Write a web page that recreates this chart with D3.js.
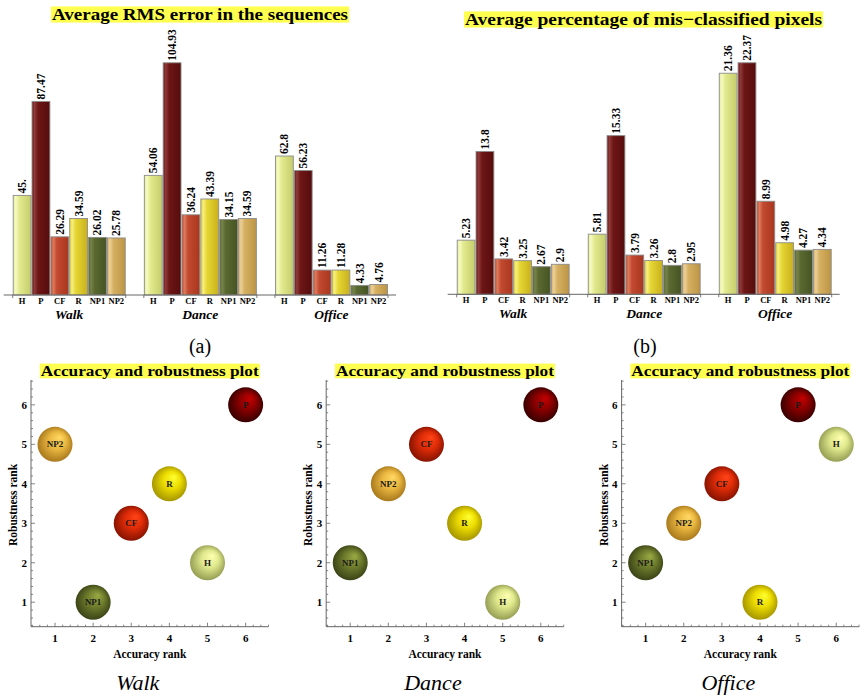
<!DOCTYPE html>
<html>
<head>
<meta charset="utf-8">
<script src="https://cdn.jsdelivr.net/npm/d3@7"></script>
<style>
  body { margin: 0; background: #fff; }
</style>
</head>
<body>
<div id="chart"></div>
<script>
// data
const groups = ["Walk", "Dance", "Office"];
const methods = ["H", "P", "CF", "R", "NP1", "NP2"];

const rmsWalk = [45, 87.47, 26.29, 34.59, 26.02, 25.78];
const rmsDance = [54.06, 104.93, 36.24, 43.39, 34.15, 34.59];
const rmsOffice = [62.8, 56.23, 11.26, 11.28, 4.33, 4.76];

const misWalk = [5.23, 13.8, 3.42, 3.25, 2.67, 2.9];
const misDance = [5.81, 15.33, 3.79, 3.26, 2.8, 2.95];
const misOffice = [21.36, 22.37, 8.99, 4.98, 4.27, 4.34];

// accuracy / robustness ranks, same order as methods
const accWalk = [5, 6, 3, 4, 2, 1];
const robWalk = [2, 6, 3, 4, 1, 5];
const accDance = [5, 6, 3, 4, 1, 2];
const robDance = [1, 6, 5, 3, 2, 4];
const accOffice = [6, 5, 3, 4, 1, 2];
const robOffice = [5, 6, 4, 1, 2, 3];
const rankTicks = [1, 2, 3, 4, 5, 6];

// colours per method
const barColors = {
  H:   { dark: "#c4cc6c", base: "#e2ea8e", light: "#f6fac4" },
  P:   { dark: "#560c0c", base: "#6e1616", light: "#8e3a3a" },
  CF:  { dark: "#a8361e", base: "#c24a30", light: "#dc7a5c" },
  R:   { dark: "#c8b01c", base: "#e6d634", light: "#f6ee80" },
  NP1: { dark: "#465424", base: "#5a6830", light: "#76844c" },
  NP2: { dark: "#bc9444", base: "#d6b062", light: "#ecd098" }
};
const ballColors = {
  H:   { dark: "#8c944c", base: "#dfe88c", light: "#ffffb0" },
  P:   { dark: "#2c0000", base: "#8a0000", light: "#c40000" },
  CF:  { dark: "#7a1000", base: "#e02c08", light: "#ff4418" },
  R:   { dark: "#9c8c00", base: "#ecdc00", light: "#ffff30" },
  NP1: { dark: "#343c14", base: "#6e7c2c", light: "#9aaa44" },
  NP2: { dark: "#a07018", base: "#eab840", light: "#ffd864" }
};

const SERIF = "Liberation Serif, Tinos, Noto Serif, DejaVu Serif, FreeSerif, Nimbus Roman, Times, serif";
const W = 865, H = 696;
const svg = d3.select("#chart").append("svg")
  .attr("width", W).attr("height", H)
  .style("font-family", SERIF);
svg.append("rect").attr("width", W).attr("height", H).attr("fill", "#fff");

const defs = svg.append("defs");
methods.forEach(m => {
  const c = barColors[m];
  const g = defs.append("linearGradient").attr("id", "bar-" + m)
    .attr("x1", "0%").attr("x2", "100%").attr("y1", "0%").attr("y2", "0%");
  g.append("stop").attr("offset", "0%").attr("stop-color", c.base);
  g.append("stop").attr("offset", "14%").attr("stop-color", c.light);
  g.append("stop").attr("offset", "34%").attr("stop-color", c.base);
  g.append("stop").attr("offset", "100%").attr("stop-color", c.dark);

  const b = ballColors[m];
  const r = defs.append("radialGradient").attr("id", "ball-" + m)
    .attr("cx", "50%").attr("cy", "50%").attr("r", "55%")
    .attr("fx", "64%").attr("fy", "30%");
  r.append("stop").attr("offset", "0%").attr("stop-color", b.light);
  r.append("stop").attr("offset", "45%").attr("stop-color", b.base);
  r.append("stop").attr("offset", "100%").attr("stop-color", b.dark);
});

// width-fitted text, so the layout holds whatever serif face is found
function fitText(sel, width) {
  sel.each(function () {
    const w = this.getComputedTextLength();
    if (w > 0) d3.select(this).attr("textLength", width).attr("lengthAdjust", "spacingAndGlyphs");
  });
  return sel;
}

function highlightTitle(text, cx, baseline, size, width) {
  const g = svg.append("g");
  const t = g.append("text")
    .attr("x", cx).attr("y", baseline)
    .attr("text-anchor", "middle")
    .attr("font-weight", "bold")
    .attr("font-size", size)
    .text(text);
  fitText(t, width);
  g.insert("rect", "text")
    .attr("x", cx - width / 2 - 1).attr("y", baseline - size * 0.8)
    .attr("width", width + 2).attr("height", size * 0.95)
    .attr("fill", "#ffff50");
}

const fmt = v => Number.isInteger(v) ? v + "." : String(v);

function barChart(cfg) {
  const series = [cfg.walk, cfg.dance, cfg.office];
  const x = d3.scaleBand().domain(groups).range([cfg.x0, cfg.x1]).paddingInner(0.138);
  const xm = d3.scaleBand().domain(methods).range([0, x.bandwidth()]);
  const y = d3.scaleLinear().domain([0, cfg.yMax]).range([cfg.base, cfg.top]);

  const g = svg.append("g");
  groups.forEach((grp, gi) => {
    const gg = g.append("g").attr("transform", `translate(${x(grp)},0)`);
    const rows = methods.map((m, i) => ({ m, v: series[gi][i] }));

    gg.selectAll("rect").data(rows).enter().append("rect")
      .attr("x", d => xm(d.m) + 0.5)
      .attr("y", d => y(d.v))
      .attr("width", xm.bandwidth() - 1)
      .attr("height", d => y(0) - y(d.v))
      .attr("fill", d => `url(#bar-${d.m})`)
      .attr("stroke", "#8c8c8c")
      .attr("stroke-width", 0.9);

    gg.selectAll("text.val").data(rows).enter().append("text")
      .attr("class", "val")
      .attr("transform", d => `translate(${xm(d.m) + xm.bandwidth() / 2 + 4},${y(d.v) - 2}) rotate(-90)`)
      .attr("font-size", 11.5).attr("font-weight", "bold")
      .text(d => fmt(d.v));

    gg.selectAll("text.cat").data(methods).enter().append("text")
      .attr("class", "cat")
      .attr("x", d => xm(d) + xm.bandwidth() / 2)
      .attr("y", cfg.base + 9)
      .attr("text-anchor", "middle")
      .attr("font-size", 8.5).attr("font-weight", "bold")
      .text(d => d);

    gg.append("text")
      .attr("x", x.bandwidth() / 2).attr("y", cfg.base + 23.5)
      .attr("text-anchor", "middle")
      .attr("font-size", 13.5).attr("font-weight", "bold").attr("font-style", "italic")
      .text(grp);

    [0, x.bandwidth()].forEach(tx => {
      gg.append("line").attr("x1", tx).attr("x2", tx)
        .attr("y1", cfg.base).attr("y2", cfg.base + 3)
        .attr("stroke", "#555").attr("stroke-width", 0.8);
    });
  });

  g.append("line")
    .attr("x1", cfg.x0 - 9).attr("x2", cfg.x1 + 8)
    .attr("y1", cfg.base).attr("y2", cfg.base)
    .attr("stroke", "#666").attr("stroke-width", 1);

  highlightTitle(cfg.title, cfg.titleX, cfg.titleY, 17, cfg.titleW);
}

barChart({
  title: "Average RMS error in the sequences",
  titleX: 200, titleY: 20, titleW: 296,
  x0: 12.7, x1: 388, base: 295, top: 295 - 110 * 2.213, yMax: 110,
  walk: rmsWalk, dance: rmsDance, office: rmsOffice
});
barChart({
  title: "Average percentage of mis\u2212classified pixels",
  titleX: 643.5, titleY: 25, titleW: 357,
  x0: 456.7, x1: 831.7, base: 294.3, top: 294.3 - 23 * 10.35, yMax: 23,
  walk: misWalk, dance: misDance, office: misOffice
});

svg.append("text").attr("x", 200).attr("y", 353).attr("text-anchor", "middle")
  .attr("font-size", 20).text("(a)");
svg.append("text").attr("x", 645).attr("y", 353).attr("text-anchor", "middle")
  .attr("font-size", 20).text("(b)");

function rankPlot(ox, acc, rob, caption) {
  const x = d3.scaleLinear().domain([0.37, 6.6]).range([ox, ox + 237.5]);
  const y = d3.scaleLinear().domain([0.38, 6.63]).range([626.7, 380]);
  const g = svg.append("g");
  const axisColor = "#666";

  // x axis
  const xAxis = g.append("g").attr("transform", "translate(0,626.7)");
  xAxis.append("line").attr("x1", x.range()[0]).attr("x2", x.range()[1])
    .attr("stroke", axisColor);
  xAxis.selectAll("line.minor").data(x.ticks(30)).enter().append("line")
    .attr("x1", d => x(d)).attr("x2", d => x(d))
    .attr("y1", 0).attr("y2", d => Math.abs(d - Math.round(d)) < 1e-6 ? -4 : -2)
    .attr("stroke", axisColor).attr("stroke-width", 0.8);
  xAxis.selectAll("text").data(rankTicks).enter().append("text")
    .attr("x", d => x(d)).attr("y", 15)
    .attr("text-anchor", "middle")
    .attr("font-size", 11).attr("font-weight", "bold")
    .text(d => d);

  // y axis
  const yAxis = g.append("g").attr("transform", `translate(${ox},0)`);
  yAxis.append("line").attr("y1", y.range()[0]).attr("y2", y.range()[1])
    .attr("stroke", axisColor);
  yAxis.selectAll("line.minor").data(y.ticks(30)).enter().append("line")
    .attr("y1", d => y(d)).attr("y2", d => y(d))
    .attr("x1", 0).attr("x2", d => Math.abs(d - Math.round(d)) < 1e-6 ? 4 : 2)
    .attr("stroke", axisColor).attr("stroke-width", 0.8);
  yAxis.selectAll("text").data(rankTicks).enter().append("text")
    .attr("x", -4).attr("y", d => y(d) + 4)
    .attr("text-anchor", "end")
    .attr("font-size", 11).attr("font-weight", "bold")
    .text(d => d);

  const cx = ox + 118.75;
  g.append("text").attr("x", cx).attr("y", 658)
    .attr("text-anchor", "middle")
    .attr("font-size", 11.5).attr("font-weight", "bold")
    .text("Accuracy rank");
  g.append("text")
    .attr("transform", `translate(${ox - 14},505) rotate(-90)`)
    .attr("text-anchor", "middle")
    .attr("font-size", 11.5).attr("font-weight", "bold")
    .text("Robustness rank");

  const pts = methods.map((m, i) => ({ m, a: acc[i], r: rob[i] }));
  g.selectAll("circle").data(pts).enter().append("circle")
    .attr("cx", d => x(d.a)).attr("cy", d => y(d.r)).attr("r", 17.5)
    .attr("fill", d => `url(#ball-${d.m})`);
  g.selectAll("text.lbl").data(pts).enter().append("text")
    .attr("class", "lbl")
    .attr("x", d => x(d.a)).attr("y", d => y(d.r) + 3)
    .attr("text-anchor", "middle")
    .attr("font-size", 9).attr("font-weight", "bold")
    .attr("fill", "#1a1a1a")
    .text(d => d.m);

  highlightTitle("Accuracy and robustness plot", cx, 376, 15.5, 218);

  svg.append("text").attr("x", cx - 12).attr("y", 690)
    .attr("text-anchor", "middle")
    .attr("font-size", 22).attr("font-style", "italic")
    .text(caption);
}

rankPlot(31, accWalk, robWalk, "Walk");
rankPlot(326.2, accDance, robDance, "Dance");
rankPlot(621.6, accOffice, robOffice, "Office");
</script>
</body>
</html>
